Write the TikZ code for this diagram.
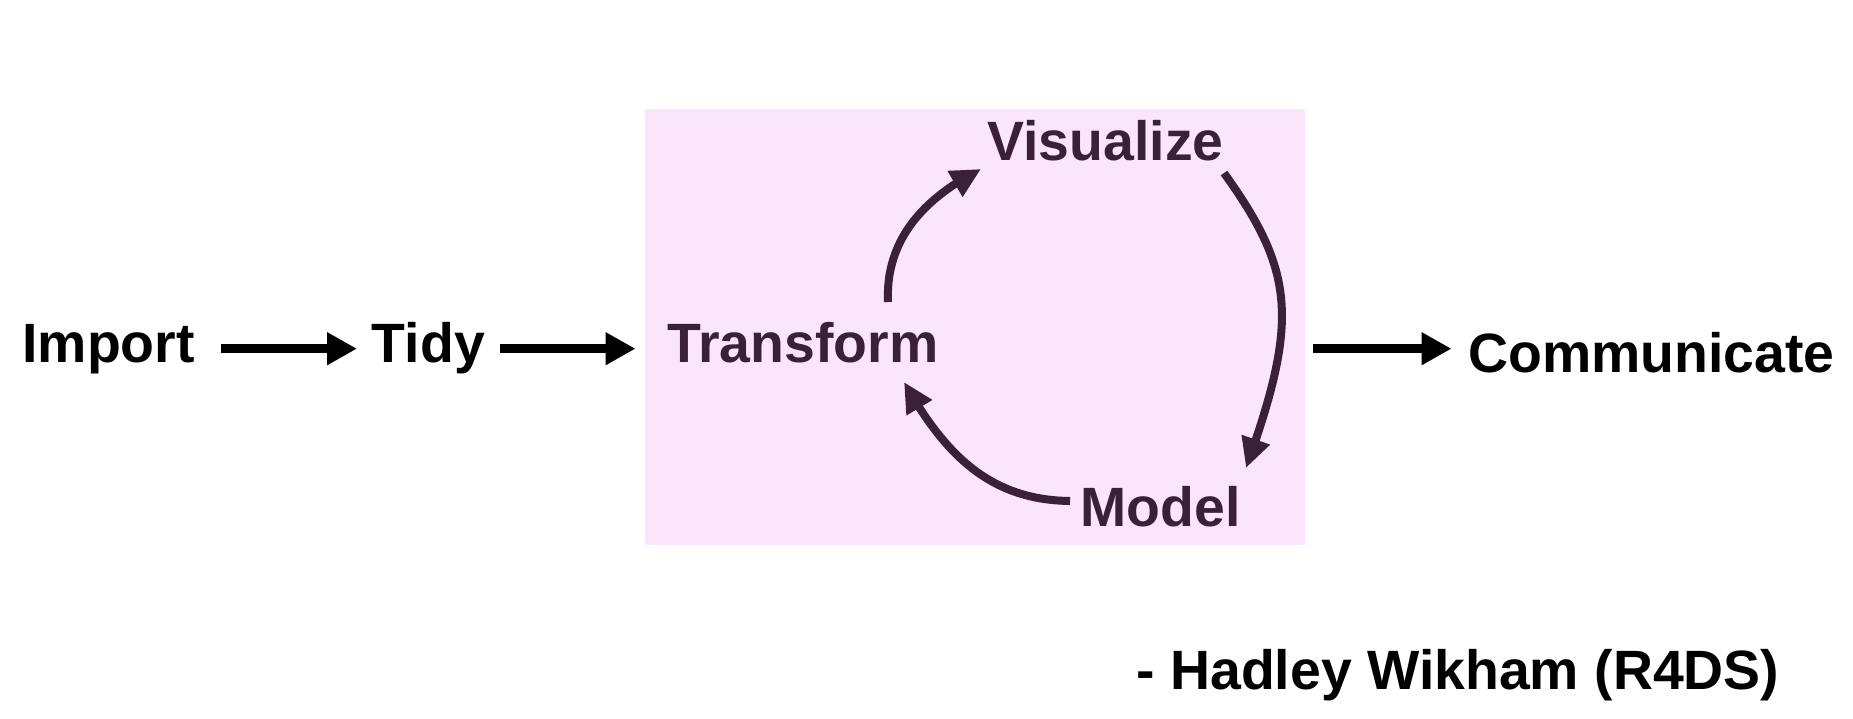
\documentclass[tikz,border=0pt]{standalone}
\usepackage{fontspec}
\setmainfont{Liberation Sans}
\usetikzlibrary{arrows.meta,bending}
\definecolor{boxpink}{RGB}{251,229,251}
\definecolor{plum}{RGB}{58,33,57}
\tikzset{
  lbl/.style={inner sep=0pt, anchor=base west, text height=14pt, text depth=0pt,
    font=\bfseries\fontsize{27.7pt}{32pt}\selectfont},
  flow/.style={line width=4.5pt, black, -{Triangle[length=15pt,width=15.5pt]}},
  loop/.style={line width=4pt, plum, -{Triangle[length=15pt,width=14pt,flex]}},
  cyclebox/.style={fill=boxpink, draw=none, inner sep=0pt, minimum width=330pt, minimum height=218pt}
}
\begin{document}
\begin{tikzpicture}[x=0.5pt,y=-0.5pt]
\useasboundingbox (0,0) rectangle (1853,718);
\node[cyclebox] (box) at (975,327) {};
\node[lbl] (import) at (22,362.7) {Import};
\node[lbl] (tidy) at (371.5,362.7) {Tidy};
\node[lbl, text=plum] (transform) at (667,362.7) {Transform};
\node[lbl, text=plum] (visualize) at (987,160.7) {Visualize};
\node[lbl, text=plum] (model) at (1080,526.7) {Model};
\node[lbl] (communicate) at (1468,372.7) {Communicate};
\node[lbl] (quote) at (1136,689.3) {- Hadley Wikham (R4DS)};
% straight flow arrows
\draw[flow] (import.east -| 221,0) -- (tidy.west -| 357,0);
\draw[flow] (tidy.east -| 500,0) -- (transform.west -| 635.5,0);
\draw[flow] ([xshift=4pt]box.east |- transform.east) -- (communicate.west |- transform.east) [shorten >=8.25pt];
% cycle arrows
\draw[loop] ([shift={(221,-60.7)}]transform.base west) .. controls +(-3,-67) and +(-51,26) .. ([shift={(-6,8.3)}]visualize.base west);
\draw[loop] ([shift={(237,12.3)}]visualize.base west) .. controls +(72,100) and +(52,-146) .. ([shift={(166,-58.7)}]model.base west);
\draw[loop] ([shift={(-10,-25.7)}]model.base west) .. controls +(-80,-1) and +(41,73) .. ([shift={(237,19.3)}]transform.base west);
\end{tikzpicture}
\end{document}
